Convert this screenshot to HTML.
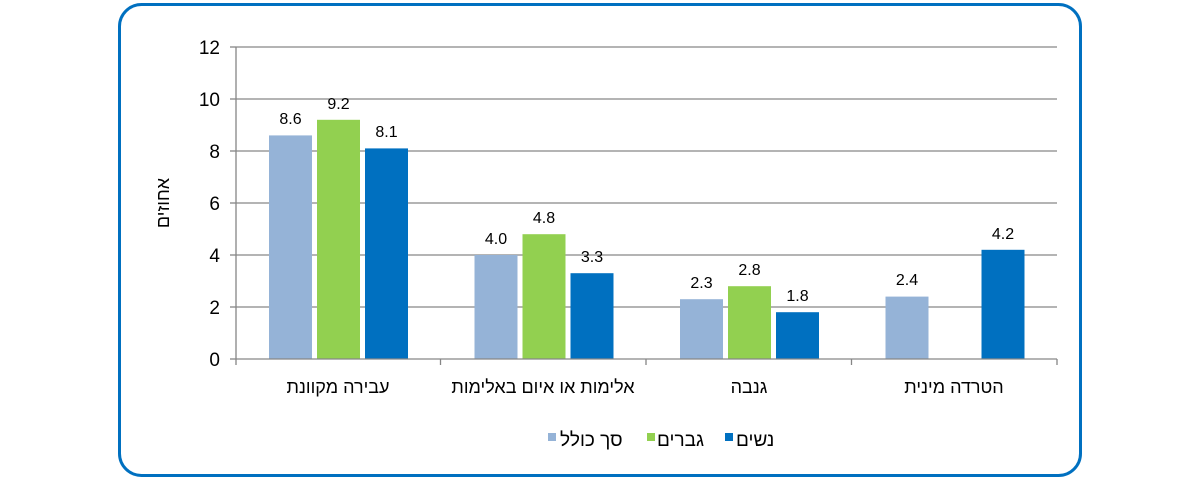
<!DOCTYPE html>
<html><head><meta charset="utf-8"><style>body{margin:0;background:#fff}svg{display:block}text{font-family:"Liberation Sans","DejaVu Sans",sans-serif}</style></head><body>
<svg width="1200" height="479" xmlns="http://www.w3.org/2000/svg">
<rect x="119.5" y="4.5" width="961" height="471" rx="22" fill="#fff" stroke="#0070C0" stroke-width="3"/>
<g stroke="#868686" stroke-width="1.3">
<line x1="236" y1="47" x2="1057" y2="47"/><line x1="236" y1="99" x2="1057" y2="99"/><line x1="236" y1="151" x2="1057" y2="151"/><line x1="236" y1="203" x2="1057" y2="203"/><line x1="236" y1="255" x2="1057" y2="255"/><line x1="236" y1="307" x2="1057" y2="307"/>
<line x1="236" y1="47" x2="236" y2="359"/>
<line x1="230" y1="47" x2="236" y2="47"/><line x1="230" y1="99" x2="236" y2="99"/><line x1="230" y1="151" x2="236" y2="151"/><line x1="230" y1="203" x2="236" y2="203"/><line x1="230" y1="255" x2="236" y2="255"/><line x1="230" y1="307" x2="236" y2="307"/><line x1="230" y1="359" x2="236" y2="359"/>
</g>
<g font-size="19" fill="#000" text-anchor="end">
<text x="220" y="54">12</text><text x="220" y="106">10</text><text x="220" y="158">8</text><text x="220" y="210">6</text><text x="220" y="262">4</text><text x="220" y="314">2</text><text x="220" y="366">0</text>
</g>
<text transform="translate(169,203) rotate(-90)" font-size="18" text-anchor="middle" direction="rtl">אחוזים</text>
<g>
<rect x="269" y="135.4" width="43" height="223.6" fill="#95B3D7"/>
<rect x="317" y="119.8" width="43" height="239.2" fill="#92D050"/>
<rect x="365" y="148.4" width="43" height="210.6" fill="#0070C0"/>
<rect x="474.5" y="255" width="43" height="104" fill="#95B3D7"/>
<rect x="522.5" y="234.2" width="43" height="124.8" fill="#92D050"/>
<rect x="570.5" y="273.2" width="43" height="85.8" fill="#0070C0"/>
<rect x="680" y="299.2" width="43" height="59.8" fill="#95B3D7"/>
<rect x="728" y="286.2" width="43" height="72.8" fill="#92D050"/>
<rect x="776" y="312.2" width="43" height="46.8" fill="#0070C0"/>
<rect x="885.5" y="296.6" width="43" height="62.4" fill="#95B3D7"/>
<rect x="981.5" y="249.8" width="43" height="109.2" fill="#0070C0"/>
</g>
<g stroke="#868686" stroke-width="1.3">
<line x1="236" y1="359" x2="1057" y2="359"/>
<line x1="236" y1="359" x2="236" y2="365"/><line x1="440.5" y1="359" x2="440.5" y2="365"/><line x1="646" y1="359" x2="646" y2="365"/><line x1="851.5" y1="359" x2="851.5" y2="365"/><line x1="1057" y1="359" x2="1057" y2="365"/>
</g>
<g font-size="16" text-anchor="middle" fill="#000">
<text x="290.5" y="124">8.6</text><text x="338.5" y="109">9.2</text><text x="386.5" y="137">8.1</text>
<text x="496" y="244">4.0</text><text x="544" y="223">4.8</text><text x="592" y="262">3.3</text>
<text x="701.5" y="288">2.3</text><text x="749.5" y="275">2.8</text><text x="797.5" y="301">1.8</text>
<text x="907" y="285">2.4</text><text x="1003" y="239">4.2</text>
</g>
<g font-size="18" text-anchor="middle" direction="rtl">
<text x="338" y="393">עבירה מקוונת</text>
<text x="543" y="393">אלימות או איום באלימות</text>
<text x="749" y="393">גנבה</text>
<text x="954" y="393">הטרדה מינית</text>
</g>
<rect x="548" y="433" width="8" height="8" fill="#95B3D7"/>
<rect x="647" y="433" width="8" height="8" fill="#92D050"/>
<rect x="725" y="433" width="8" height="8" fill="#0070C0"/>
<g font-size="19" text-anchor="end" direction="rtl">
<text x="560" y="446">סך כולל</text>
<text x="657" y="446">גברים</text>
<text x="736" y="446">נשים</text>
</g>
</svg>
</body></html>
